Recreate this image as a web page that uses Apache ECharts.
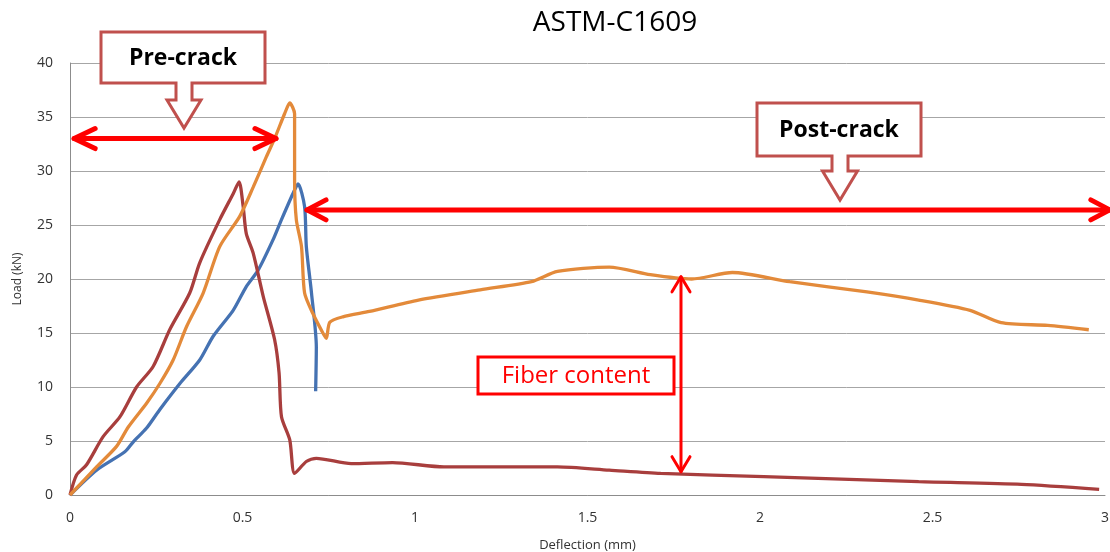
<!DOCTYPE html>
<html>
<head>
<meta charset="utf-8">
<script src="https://cdn.jsdelivr.net/npm/echarts@6/dist/echarts.min.js"></script>
<style>
  html, body { margin: 0; padding: 0; background: #fff; }
  #main { width: 1110px; height: 552px; }
</style>
</head>
<body>
<div id="main"></div>
<script>
// 曲线数据 (deflection mm, load kN)
var blueX = [0, 0.077, 0.159, 0.183, 0.222, 0.26, 0.318, 0.376, 0.415, 0.473, 0.511, 0.545, 0.588, 0.613, 0.646, 0.661, 0.68, 0.685, 0.70, 0.714, 0.712];
var blueY = [0, 2.3, 4.0, 4.9, 6.2, 7.9, 10.3, 12.5, 14.7, 17.1, 19.3, 20.8, 23.6, 25.5, 27.9, 28.8, 26.7, 23.0, 18.7, 13.7, 9.6];

var redX = [0, 0.019, 0.048, 0.096, 0.145, 0.193, 0.241, 0.289, 0.347, 0.376, 0.434, 0.473, 0.49, 0.502, 0.511, 0.531, 0.56, 0.593, 0.606, 0.613, 0.637, 0.651, 0.685, 0.714, 0.815, 0.935, 1.084, 1.413, 1.563, 1.712, 2.011, 2.46, 2.758, 2.983];
var redY = [0, 1.85, 2.8, 5.4, 7.25, 10.0, 11.9, 15.3, 18.7, 21.5, 25.5, 27.9, 29.0, 26.7, 24.2, 22.4, 18.4, 14.4, 11.3, 7.25, 5.1, 2.0, 3.1, 3.4, 2.9, 3.0, 2.6, 2.6, 2.3, 2.0, 1.7, 1.23, 0.99, 0.53];

var orangeX = [0, 0.077, 0.135, 0.169, 0.222, 0.26, 0.299, 0.338, 0.386, 0.434, 0.492, 0.531, 0.569, 0.593, 0.622, 0.637, 0.651, 0.651, 0.656, 0.671, 0.68, 0.704, 0.733, 0.743, 0.753, 0.791, 0.868, 1.01, 1.189, 1.338, 1.413, 1.563, 1.682, 1.802, 1.92, 2.086, 2.31, 2.46, 2.609, 2.699, 2.834, 2.953];
var orangeY = [0, 2.6, 4.5, 6.3, 8.5, 10.3, 12.5, 15.6, 18.7, 23.0, 25.8, 28.5, 31.3, 33.0, 35.3, 36.3, 35.3, 29.2, 25.5, 23.0, 18.7, 16.8, 15.0, 14.5, 16.0, 16.5, 17.0, 18.05, 19.0, 19.75, 20.7, 21.1, 20.4, 20.0, 20.6, 19.75, 18.8, 18.05, 17.1, 15.95, 15.7, 15.3];

var yTicks = [0, 5, 10, 15, 20, 25, 30, 35, 40];

// 标注箭头 (数据坐标)
var preArrow = [[0.012, 33.0], [0.597, 33.0]];
var postArrow = [[0.687, 26.4], [3.014, 26.4]];
var fiberArrow = [[1.771, 20.2], [1.771, 2.16]];

function zip(xs, ys) {
    var res = [];
    for (var i = 0; i < xs.length; i++) res.push([xs[i], ys[i]]);
    return res;
}

var myChart = echarts.init(document.getElementById('main'), null, { renderer: 'canvas' });

function lineSeries(name, xs, ys, color) {
    return {
        name: name,
        type: 'line',
        data: zip(xs, ys),
        smooth: 0.25,
        showSymbol: false,
        symbol: 'none',
        lineStyle: { color: color, width: 3.3 },
        z: 3
    };
}

var option = {
    backgroundColor: '#fff',
    animation: false,
    title: {
        text: 'ASTM-C1609',
        left: 610,
        textAlign: 'center',
        top: 4,
        textStyle: { fontFamily: 'Open Sans', fontSize: 28, fontWeight: 'normal', color: '#000' }
    },
    grid: { left: 70, right: 5, top: 63, bottom: 57, containLabel: false, outerBoundsMode: 'none' },
    xAxis: {
        type: 'value',
        min: 0,
        max: 3,
        interval: 0.5,
        name: 'Deflection (mm)',
        nameLocation: 'middle',
        nameGap: 44,
        nameTextStyle: { fontFamily: 'Open Sans', fontSize: 13, color: '#333' },
        axisLine: { lineStyle: { color: '#8c8c8c', width: 1 } },
        axisTick: { show: false },
        axisLabel: { margin: 16, fontFamily: 'Open Sans', fontSize: 14, color: '#333' },
        splitLine: { show: false }
    },
    yAxis: {
        type: 'value',
        min: yTicks[0],
        max: yTicks[yTicks.length - 1],
        interval: 5,
        name: 'Load (kN)',
        nameLocation: 'middle',
        nameGap: 46,
        nameTextStyle: { fontFamily: 'Open Sans', fontSize: 12, color: '#333' },
        axisLine: { show: true, lineStyle: { color: '#8c8c8c', width: 1 } },
        axisTick: { show: false },
        axisLabel: { margin: 17, fontFamily: 'Open Sans', fontSize: 14, color: '#333' },
        splitLine: { lineStyle: { color: '#a6a6a6', width: 1 } }
    },
    series: [
        lineSeries('Blue', blueX, blueY, '#4572b2'),
        lineSeries('Red', redX, redY, '#a83e3d'),
        lineSeries('Orange', orangeX, orangeY, '#e38a3a')
    ]
};
myChart.setOption(option);

// 双箭头
function doubleArrow(pts, width, head, spread) {
    var a = myChart.convertToPixel({ gridIndex: 0 }, pts[0]);
    var b = myChart.convertToPixel({ gridIndex: 0 }, pts[1]);
    var dx = b[0] - a[0], dy = b[1] - a[1];
    var len = Math.sqrt(dx * dx + dy * dy);
    var ux = dx / len, uy = dy / len, nx = -uy, ny = ux;
    var style = { stroke: '#ff0000', lineWidth: width, lineCap: 'round', lineJoin: 'round', fill: null };
    return [
        { type: 'line', shape: { x1: a[0], y1: a[1], x2: b[0], y2: b[1] }, style: style, z: 10 },
        { type: 'polyline', shape: { points: [
            [a[0] + ux * head + nx * spread, a[1] + uy * head + ny * spread], a,
            [a[0] + ux * head - nx * spread, a[1] + uy * head - ny * spread]] }, style: style, z: 10 },
        { type: 'polyline', shape: { points: [
            [b[0] - ux * head + nx * spread, b[1] - uy * head + ny * spread], b,
            [b[0] - ux * head - nx * spread, b[1] - uy * head - ny * spread]] }, style: style, z: 10 }
    ];
}

// 标注框 (带向下箭头)
function callout(x1, y1, x2, y2, stem, headW, tipY, stemY, label) {
    var cx = (x1 + x2) / 2 + 1;
    return [{
        type: 'polygon',
        shape: { points: [
            [x1, y1], [x2, y1], [x2, y2], [cx + stem / 2, y2], [cx + stem / 2, stemY],
            [cx + headW / 2, stemY], [cx, tipY], [cx - headW / 2, stemY], [cx - stem / 2, stemY],
            [cx - stem / 2, y2], [x1, y2]] },
        style: { fill: '#fff', stroke: '#c0504d', lineWidth: 3, lineJoin: 'miter' },
        z: 11
    }, {
        type: 'text',
        x: (x1 + x2) / 2,
        y: (y1 + y2) / 2 + 1,
        style: { text: label, fontFamily: 'Open Sans', fontSize: 23, fontWeight: 'bold', fill: '#000', align: 'center', verticalAlign: 'middle' },
        z: 12
    }];
}

var elements = [];
elements = elements.concat(doubleArrow(preArrow, 5, 21, 10));
elements = elements.concat(doubleArrow(postArrow, 5, 19, 10));
elements = elements.concat(doubleArrow(fiberArrow, 3, 15, 9));
elements = elements.concat(callout(101, 32, 265, 83, 16, 34, 128, 100, 'Pre-crack'));
elements = elements.concat(callout(757, 103, 921, 156, 16, 35, 200, 171, 'Post-crack'));
elements.push({
    type: 'rect',
    shape: { x: 478, y: 357, width: 196, height: 37 },
    style: { fill: '#fff', stroke: '#ff0000', lineWidth: 3 },
    z: 11
});
elements.push({
    type: 'text',
    x: 576,
    y: 376,
    style: { text: 'Fiber content', fontFamily: 'Open Sans', fontSize: 24, fill: '#ff0000', align: 'center', verticalAlign: 'middle' },
    z: 12
});
myChart.setOption({ graphic: { elements: elements } });
</script>
</body>
</html>
